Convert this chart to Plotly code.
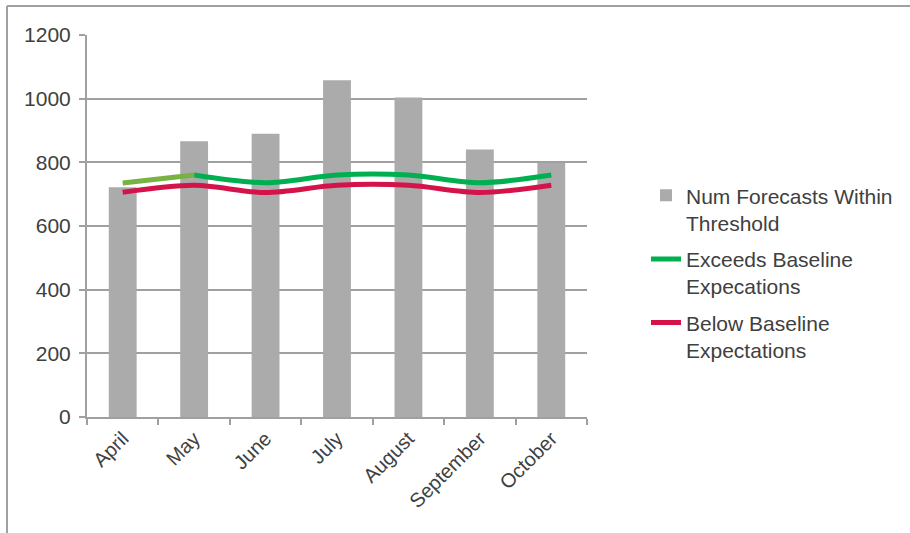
import plotly.graph_objects as go

months = ["April", "May", "June", "July", "August", "September", "October"]
forecasts_within = [722, 866, 890, 1058, 1004, 840, 798]
exceeds_baseline = [735, 760, 736, 760, 760, 736, 760]
below_baseline = [706, 728, 705, 728, 728, 705, 728]

font_family = "Liberation Sans, Arial, sans-serif"
text_color = "#404040"
grid_color = "#a0a0a0"

fig = go.Figure()
fig.add_trace(go.Bar(
    x=months, y=forecasts_within, name="Num Forecasts Within<br>Threshold",
    marker=dict(color="#ababab", line=dict(width=0)), legendgroup="a",
))
fig.add_trace(go.Scatter(
    x=months[1:], y=exceeds_baseline[1:], mode="lines",
    name="Exceeds Baseline<br>Expecations",
    line=dict(color="#00b050", width=5, shape="spline", smoothing=0.9),
    legendgroup="b",
))
fig.add_trace(go.Scatter(
    x=months[:2], y=exceeds_baseline[:2], mode="lines", showlegend=False,
    line=dict(color="#77b243", width=5, shape="spline"),
    legendgroup="b",
))
fig.add_trace(go.Scatter(
    x=months, y=below_baseline, mode="lines",
    name="Below Baseline<br>Expectations",
    line=dict(color="#d4134a", width=5, shape="spline", smoothing=0.9),
    legendgroup="c",
))

frame = dict(color="#a0a0a0", width=2)
fig.add_shape(type="line", xref="paper", yref="paper",
              x0=-0.16, x1=1.7, y0=1.076, y1=1.076, line=frame)
fig.add_shape(type="line", xref="paper", yref="paper",
              x0=-0.16, x1=-0.16, y0=1.076, y1=-0.5, line=frame)

fig.update_layout(
    width=910, height=533,
    margin=dict(l=87, r=323, t=35, b=116),
    paper_bgcolor="white", plot_bgcolor="white",
    font=dict(family=font_family, size=21, color=text_color),
    bargap=0.61,
    showlegend=True,
    legend=dict(
        x=1.118, xanchor="left", y=0.633, yanchor="top",
        font=dict(family=font_family, size=21, color=text_color),
        tracegroupgap=6, valign="top", bgcolor="rgba(0,0,0,0)",
    ),
    xaxis=dict(
        type="category", showgrid=False, showline=True, linecolor=grid_color, linewidth=2,
        ticks="outside", tickson="boundaries", ticklen=6, tickcolor=grid_color, tickwidth=2,
        tickangle=-45, tickfont=dict(size=20, color=text_color),
    ),
    yaxis=dict(
        range=[0, 1200], dtick=200, showgrid=True, gridcolor=grid_color, gridwidth=1.5,
        showline=True, linecolor=grid_color, linewidth=2,
        ticks="outside", ticklen=6, tickcolor=grid_color, tickwidth=1.5,
        zeroline=False, tickfont=dict(size=21, color=text_color), ticklabelstandoff=4,
    ),
)

fig.write_html("out.html")
